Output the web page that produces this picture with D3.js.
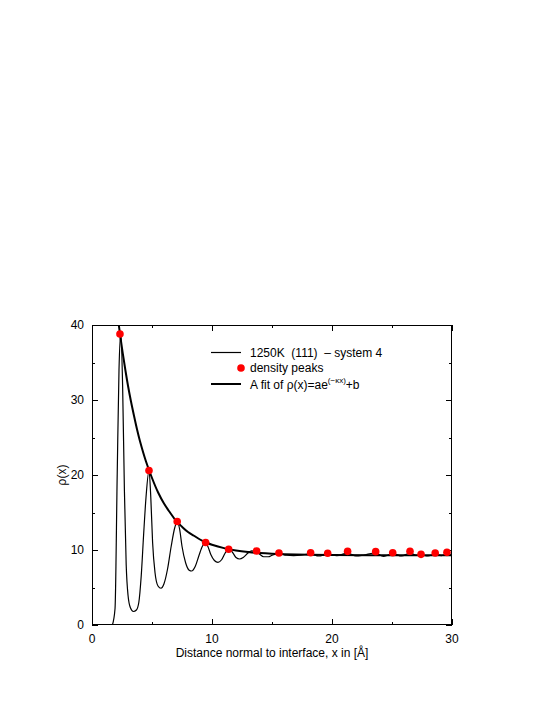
<!DOCTYPE html>
<html><head><meta charset="utf-8">
<script src="https://cdn.jsdelivr.net/npm/d3@7/dist/d3.min.js"></script>
<style>
body{margin:0;background:#fff;}
text{font-family:"Liberation Sans",Arial,sans-serif;fill:#000;white-space:pre;}
</style></head>
<body><svg id="c" width="545" height="705"></svg>
<script>
// ---- data ----
const densX = [1.7,1.92,2.1,2.25,2.4,2.55,2.7,2.85,3.0,3.2,3.45,3.7,3.9,4.1,4.3,4.5,4.75,4.9,5.05,5.25,5.5,5.75,6.0,6.3,6.6,6.9,7.1,7.3,7.5,7.8,8.1,8.3,8.6,8.9,9.2,9.45,9.65,9.9,10.2,10.5,10.8,11.1,11.4,11.7,12.0,12.3,12.6,13.0,13.3,13.7,14.0,14.3,14.7,15.0,15.6,16.2,16.8,17.4,18.2,18.9,19.6,20.4,21.3,22.0,22.6,23.6,24.3,25.1,25.8,26.5,27.0,27.4,28.0,28.6,29.1,29.6,30.0];
const densY = [0,2.2,20,34,38.9,32,18,8.0,4.0,2.3,1.8,2.0,3.0,6.5,12,17,20.6,17,11,7,5.2,4.9,5.5,7.5,10.5,13,13.8,12.8,10.5,8.3,7.3,7.2,7.8,9.2,10.5,11.0,10.5,9.4,8.6,8.35,8.7,9.6,10.1,9.7,9.0,8.8,9.0,9.6,9.9,9.8,9.4,9.1,9.1,9.3,9.55,9.3,9.25,9.3,9.5,9.2,9.45,9.25,9.6,9.2,9.3,9.6,9.15,9.5,9.2,9.6,9.3,9.35,9.2,9.45,9.25,9.5,9.4];
const peakX = [2.33,4.75,7.1,9.47,11.39,13.72,15.58,18.22,19.64,21.3,23.64,25.06,26.5,27.42,28.6,29.58];
const peakY = [38.8,20.6,13.8,11.0,10.1,9.87,9.6,9.64,9.56,9.82,9.78,9.64,9.82,9.42,9.6,9.69];
const fitX = [2.2,2.5,2.8,3.0,3.25,3.5,3.75,4,4.5,5,5.5,6,6.5,7,7.5,8,8.5,9,9.5,10,11,12,13,14,15,17,20,25,30];
const fitY = [40.4,36.9,33.8,31.9,29.8,27.9,26.1,24.5,21.8,19.6,17.7,16.2,15.0,13.9,13.1,12.4,11.9,11.4,11.0,10.7,10.25,9.94,9.73,9.59,9.5,9.39,9.33,9.3,9.3];
const xTicks = [0,10,20,30];
const xMinor = [5,15,25];
const yTicks = [0,10,20,30,40];
const yMinor = [5,15,25,35];
const legendLabels = ["1250K  (111)  \u2013 system 4","density peaks"];

// ---- layout ----
const L=92,R=452,T=325,B=625;
const svg=d3.select("#c");
const x=d3.scaleLinear().domain([0,30]).range([L,R]);
const y=d3.scaleLinear().domain([0,40]).range([B,T]);

svg.append("clipPath").attr("id","clip").append("rect")
  .attr("x",L).attr("y",T).attr("width",R-L).attr("height",B-T);

const g=svg.append("g");
g.append("rect").attr("x",L+0.5).attr("y",T+0.5).attr("width",R-L-1).attr("height",B-T-1)
 .attr("fill","none").attr("stroke","#000").attr("stroke-width",1);

function ticks(vals,len){
  vals.forEach(v=>{
    const px=Math.round(x(v))+0.5;
    g.append("line").attr("x1",px).attr("x2",px).attr("y1",B).attr("y2",B-len).attr("stroke","#000");
    g.append("line").attr("x1",px).attr("x2",px).attr("y1",T).attr("y2",T+len).attr("stroke","#000");
  });
}
function yticks(vals,len){
  vals.forEach(v=>{
    const py=Math.round(y(v))+0.5;
    g.append("line").attr("x1",L).attr("x2",L+len).attr("y1",py).attr("y2",py).attr("stroke","#000");
    g.append("line").attr("x1",R).attr("x2",R-len).attr("y1",py).attr("y2",py).attr("stroke","#000");
  });
}
ticks(xTicks,6); ticks(xMinor,3); yticks(yTicks,6); yticks(yMinor,3);

xTicks.forEach(v=>g.append("text").attr("x",x(v)).attr("y",B+18).attr("text-anchor","middle")
  .attr("font-size",12).text(v));
yTicks.forEach(v=>g.append("text").attr("x",L-8).attr("y",y(v)+4).attr("text-anchor","end")
  .attr("font-size",12).text(v));

g.append("text").attr("x",(L+R)/2).attr("y",657).attr("text-anchor","middle").attr("font-size",12)
  .text("Distance normal to interface, x in [\u00C5]");
g.append("text").attr("transform","translate(66,475) rotate(-90)").attr("text-anchor","middle")
  .attr("font-size",12).text("\u03C1(x)");

const plot=svg.append("g").attr("clip-path","url(#clip)");
const dens=densX.map((d,i)=>[d,densY[i]]);
plot.append("path").datum(dens).attr("fill","none").attr("stroke","#000").attr("stroke-width",1.2)
  .attr("d",d3.line().x(d=>x(d[0])).y(d=>y(d[1])).curve(d3.curveMonotoneX));
const fit=fitX.map((d,i)=>[d,fitY[i]]);
plot.append("path").datum(fit).attr("fill","none").attr("stroke","#000").attr("stroke-width",2)
  .attr("d",d3.line().x(d=>x(d[0])).y(d=>y(d[1])).curve(d3.curveCatmullRom));
svg.append("g").selectAll("circle").data(peakX).join("circle")
  .attr("cx",d=>x(d)).attr("cy",(d,i)=>y(peakY[i])).attr("r",3.8).attr("fill","#f00");

const lg=svg.append("g");
lg.append("line").attr("x1",211).attr("x2",241).attr("y1",352.5).attr("y2",352.5).attr("stroke","#000").attr("stroke-width",1.2);
lg.append("text").attr("x",250).attr("y",357).attr("font-size",12).attr("xml:space","preserve").text(legendLabels[0]);
lg.append("circle").attr("cx",241).attr("cy",368).attr("r",3.8).attr("fill","#f00");
lg.append("text").attr("x",250).attr("y",372).attr("font-size",12).text(legendLabels[1]);
lg.append("line").attr("x1",211).attr("x2",241).attr("y1",384).attr("y2",384).attr("stroke","#000").attr("stroke-width",2);
const ft=lg.append("text").attr("x",250).attr("y",389).attr("font-size",12);
ft.append("tspan").text("A fit of \u03C1(x)=ae");
ft.append("tspan").attr("font-size",8).attr("dy",-6).text("(\u2212\u03BAx)");
ft.append("tspan").attr("dy",6).text("+b");
</script></body></html>
